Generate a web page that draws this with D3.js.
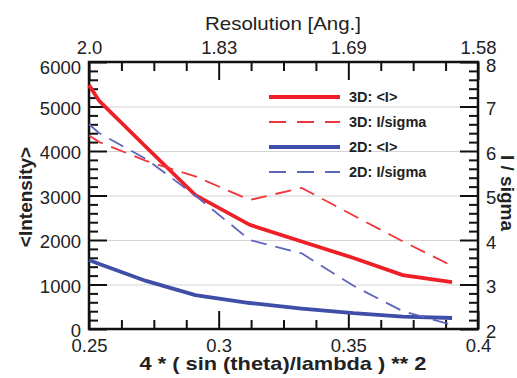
<!doctype html>
<html lang="en">
<head>
<meta charset="utf-8">
<title>Intensity and I/sigma vs resolution</title>
<script src="https://d3js.org/d3.v7.min.js"></script>
<style>
body { margin: 0; background: #fff; }
svg { display: block; }
text { font-family: 'Liberation Sans', Arial, Helvetica, sans-serif; fill: #222; }
.tick text { font-size: 18.5px; }
.grid line { stroke: #d4d4d4; stroke-width: 1.2; }
.ticks line { stroke: #111; stroke-width: 2; }
.title { font-size: 19px; }
.bold { font-weight: bold; }
.legend text { font-size: 14.5px; font-weight: bold; }
</style>
</head>
<body>
<svg id="chart" width="517" height="378"></svg>
<script>
// 4*(sin(theta)/lambda)**2 for each shell
const qValues = [0.25, 0.254, 0.272, 0.291, 0.312, 0.332, 0.352, 0.371, 0.39];
const intensity3D = [5480, 5120, 4090, 3010, 2340, 1966, 1596, 1213, 1056];
const iSigma3D = [6.35, 6.2, 5.78, 5.43, 4.90, 5.17, 4.55, 3.97, 3.42];
const intensity2D = [1550, 1460, 1080, 760, 584, 460, 355, 280, 247];
const iSigma2D = [6.6, 6.4, 5.82, 5.0, 4.0, 3.7, 2.97, 2.4, 2.09];

const qTicks = [0.25, 0.3, 0.35, 0.4];
const resolutionLabels = ['2.0', '1.83', '1.69', '1.58'];
const intensityTicks = [0, 1000, 2000, 3000, 4000, 5000, 6000];
const sigmaTicks = [2, 3, 4, 5, 6, 7, 8];
const legendLabels = ['3D: <I>', '3D: I/sigma', '2D: <I>', '2D: I/sigma'];

const plotLeft = 89, plotRight = 478, plotTop = 62, plotBottom = 329;
const width = plotRight - plotLeft;
const height = plotBottom - plotTop;

const svg = d3.select('#chart');
const chart = svg.append('g').attr('transform', `translate(${plotLeft}, ${plotTop})`);

const x = d3.scaleLinear().domain([0.25, 0.4]).range([0, width]);
const yL = d3.scaleLinear().domain([0, 6000]).range([height, 0]);
const yR = d3.scaleLinear().domain([2, 8]).range([height, 0]);

const qMinor = d3.range(0, 13).map(i => 0.25 + i * 0.0125).filter((v, i) => i % 4 !== 0);
const lMinor = d3.range(0, 31).map(i => i * 200).filter(v => v % 1000 !== 0);
const rMinor = d3.range(0, 31).map(i => 2 + i * 0.2).filter((v, i) => i % 5 !== 0);

// grid lines
chart.append('g')
  .attr('class', 'grid')
  .call(d3.axisLeft(yL).tickValues([1000, 2000, 3000, 4000, 5000]).tickSize(-width).tickFormat(''))
  .call(g => g.select('.domain').remove());

// minor ticks
const minor = (axis, tr) => chart.append('g')
  .attr('class', 'ticks')
  .attr('transform', tr)
  .call(axis.tickSizeInner(-9).tickSizeOuter(0).tickFormat(''))
  .call(g => g.select('.domain').remove());

minor(d3.axisLeft(yL).tickValues(lMinor), null);
minor(d3.axisRight(yR).tickValues(rMinor), `translate(${width},0)`);
minor(d3.axisBottom(x).tickValues(qMinor), `translate(0,${height})`);
minor(d3.axisTop(x).tickValues(qMinor), null);

// major ticks + labels
const major = (axis, tr, pad) => chart.append('g')
  .attr('class', 'ticks')
  .attr('transform', tr)
  .call(axis.tickSizeInner(-18).tickSizeOuter(0).tickPadding(pad))
  .call(g => g.select('.domain').remove());

major(d3.axisLeft(yL).tickValues(intensityTicks).tickFormat(d3.format('d')), null, 8)
  .selectAll('text').attr('dy', d => d === 6000 ? '0.6em' : '0.42em');
major(d3.axisRight(yR).tickValues(sigmaTicks).tickFormat(d3.format('d')), `translate(${width},0)`, 8)
  .selectAll('text').attr('dy', d => d === 8 ? '0.52em' : '0.45em');
major(d3.axisBottom(x).tickValues(qTicks).tickFormat(d => String(+d.toFixed(2))), `translate(0,${height})`, 10);
major(d3.axisTop(x).tickValues(qTicks).tickFormat((d, i) => resolutionLabels[i]), null, 8);

// frame
chart.append('rect')
  .attr('width', width).attr('height', height)
  .attr('fill', 'none').attr('stroke', '#111').attr('stroke-width', 2.5);

// series
const series = [
  { values: intensity3D, y: yL, color: '#ee1f26', w: 3.8, dash: null },
  { values: iSigma3D, y: yR, color: '#f0353a', w: 1.8, dash: '16 9' },
  { values: intensity2D, y: yL, color: '#3f4ea6', w: 3.8, dash: null },
  { values: iSigma2D, y: yR, color: '#5d64bb', w: 1.8, dash: '16 9' }
];

series.forEach(s => {
  const line = d3.line().x((d, i) => x(qValues[i])).y(d => s.y(d));
  chart.append('path')
    .datum(s.values)
    .attr('d', line)
    .attr('fill', 'none')
    .attr('stroke', s.color)
    .attr('stroke-width', s.w)
    .attr('stroke-dasharray', s.dash);
});

// legend
const legend = svg.append('g').attr('class', 'legend');
series.forEach((s, i) => {
  const ly = 97 + i * 25;
  legend.append('line')
    .attr('x1', 269).attr('x2', 340).attr('y1', ly).attr('y2', ly)
    .attr('stroke', s.color).attr('stroke-width', s.w)
    .attr('stroke-dasharray', s.dash ? '17 11' : null);
  legend.append('text')
    .attr('x', 349).attr('y', ly).attr('dy', '0.36em')
    .text(legendLabels[i]);
});

// titles
svg.append('text')
  .attr('class', 'title')
  .attr('x', 283).attr('y', 30)
  .attr('text-anchor', 'middle')
  .attr('textLength', 156).attr('lengthAdjust', 'spacingAndGlyphs')
  .text('Resolution [Ang.]');

svg.append('text')
  .attr('class', 'title bold')
  .attr('x', 283).attr('y', 370)
  .attr('text-anchor', 'middle')
  .attr('font-size', '18px')
  .attr('textLength', 287).attr('lengthAdjust', 'spacingAndGlyphs')
  .text('4 * ( sin (theta)/lambda ) ** 2');

svg.append('text')
  .attr('class', 'title bold')
  .attr('transform', 'translate(32, 197) rotate(-90)')
  .attr('text-anchor', 'middle')
  .attr('font-size', '20px')
  .text('<Intensity>');

svg.append('text')
  .attr('class', 'title bold')
  .attr('transform', 'translate(501, 193) rotate(90)')
  .attr('text-anchor', 'middle')
  .attr('font-size', '20px')
  .text('I / sigma');
</script>
</body>
</html>
